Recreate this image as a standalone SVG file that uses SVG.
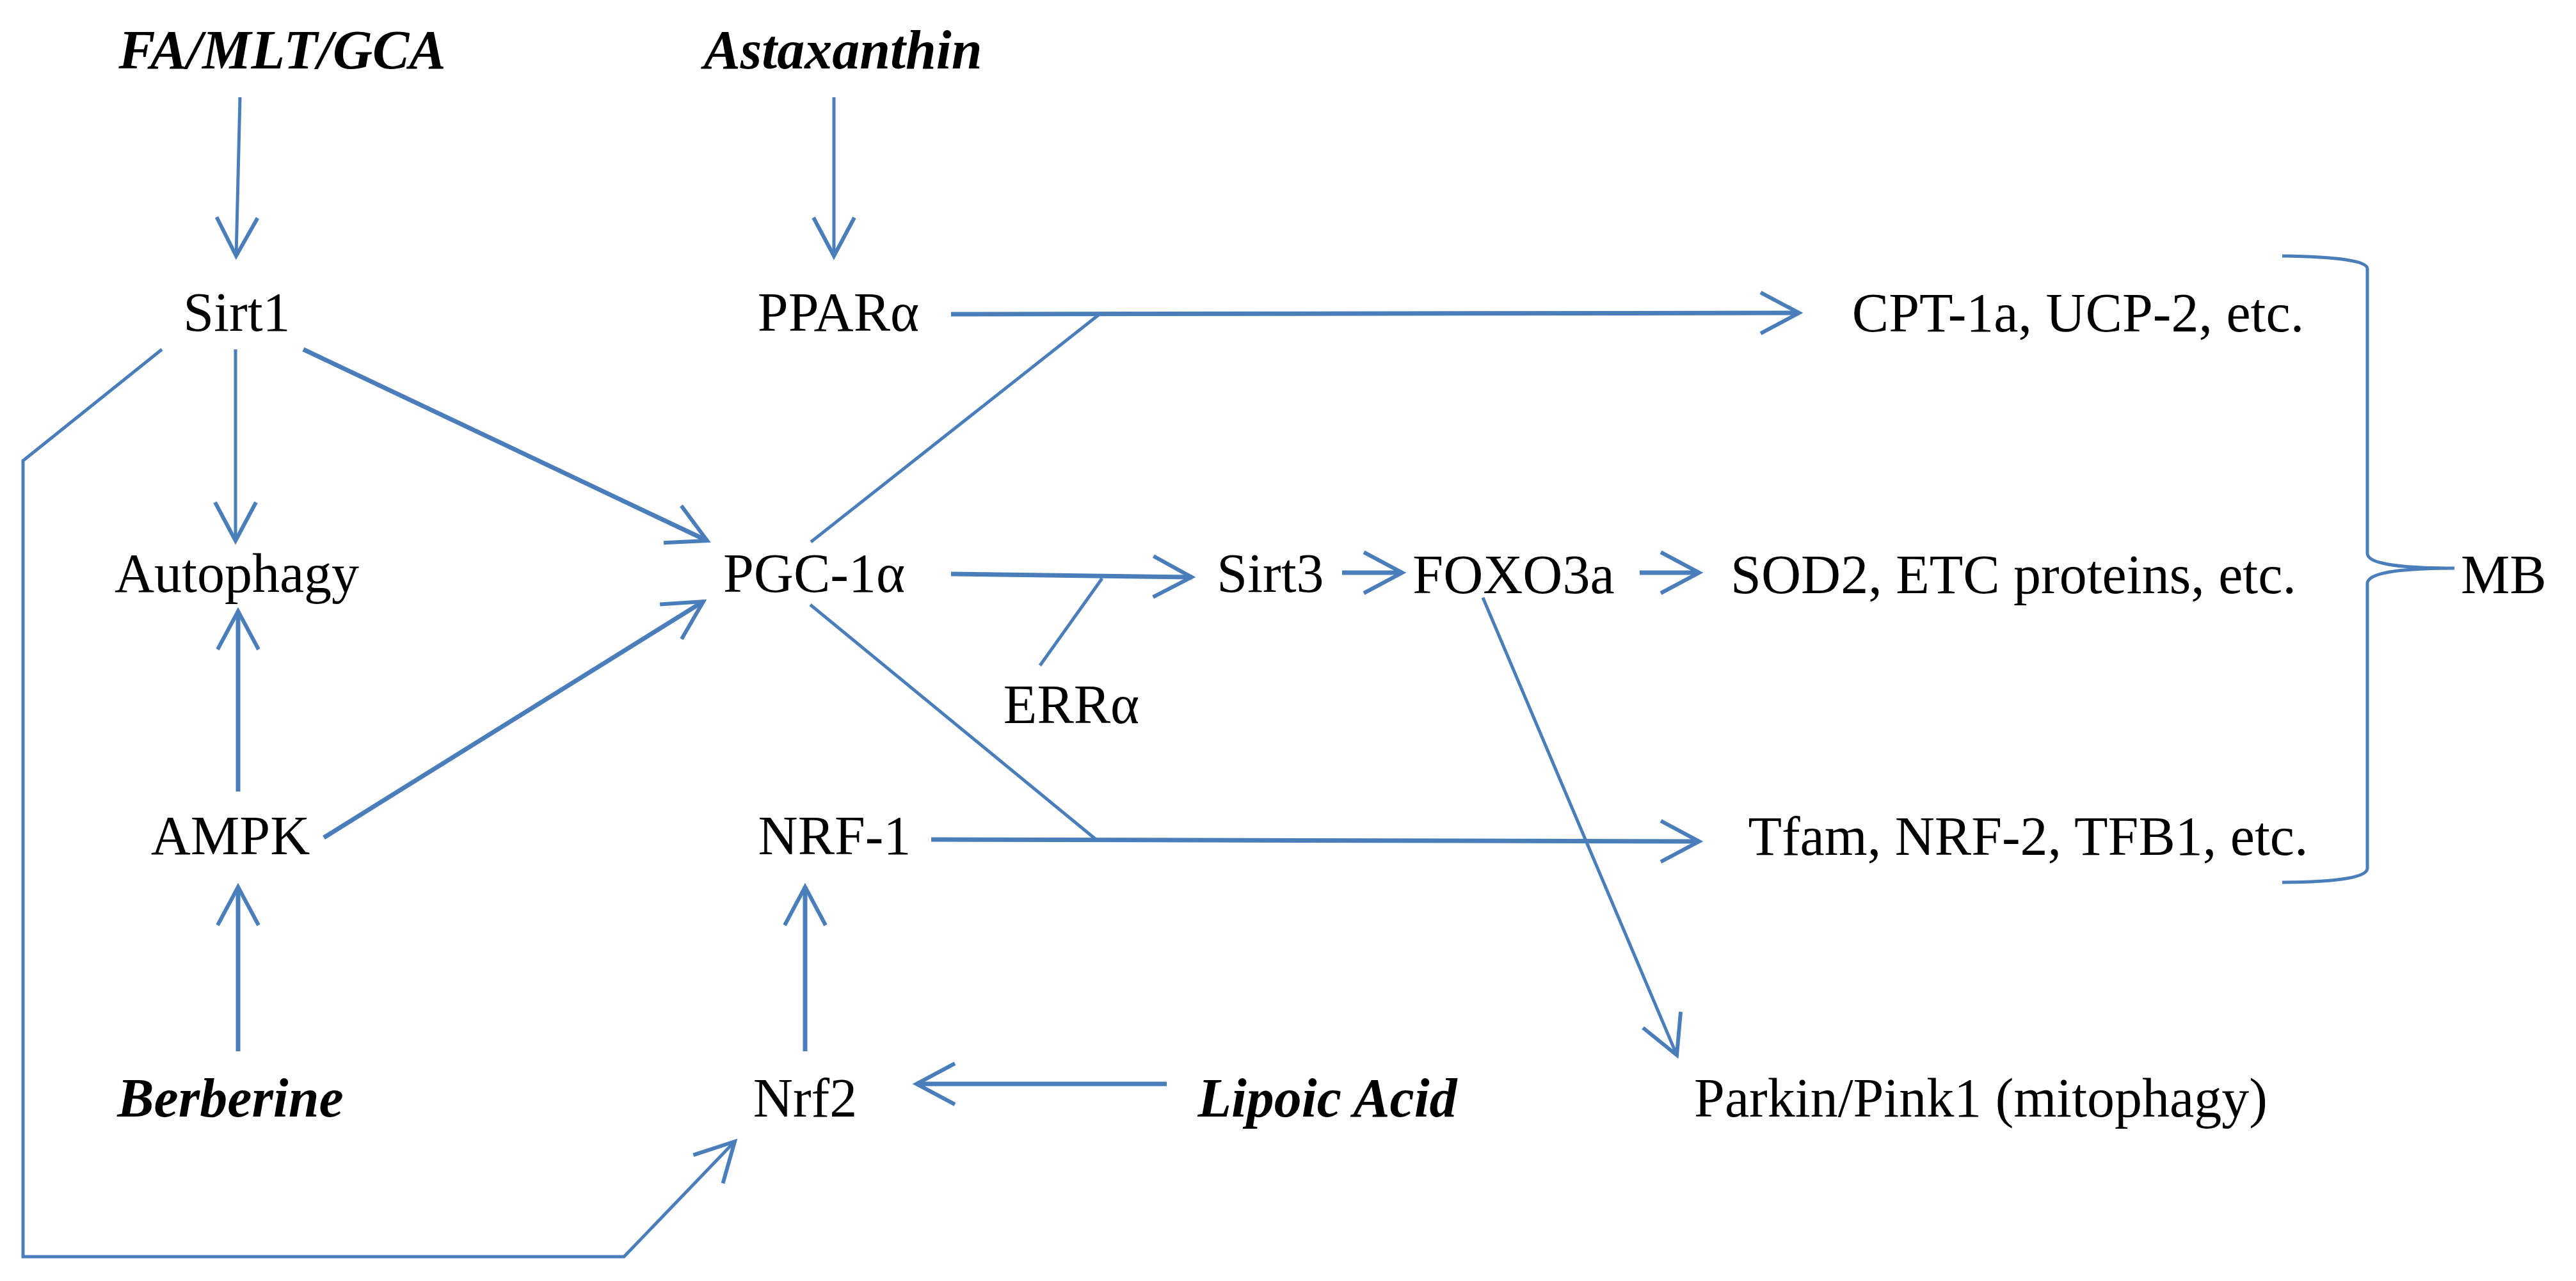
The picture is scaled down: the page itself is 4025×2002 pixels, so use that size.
<svg xmlns="http://www.w3.org/2000/svg" width="4025" height="2002" viewBox="0 0 4025 2002">
<style>
text{font-family:"Liberation Serif","Times New Roman",serif;font-size:86px;fill:#000;text-anchor:middle}
.bi{font-weight:bold;font-style:italic}
.c line,.c polyline,.c path{stroke:#4a7ebb;stroke-width:5;fill:none}
.c .t{stroke-width:7}
</style>
<defs>
<marker id="a" markerUnits="userSpaceOnUse" markerWidth="80" markerHeight="80" viewBox="-70 -40 80 80" refX="0" refY="0" orient="auto" overflow="visible">
<path d="M-60,-32 L0,0 L-60,32" fill="none" stroke="#4a7ebb" stroke-width="6"/>
</marker>
</defs>
<rect width="4025" height="2002" fill="#fff"/>
<g id="n-fa"><text class="bi" x="441" y="107">FA/MLT/GCA</text></g>
<g id="n-asta"><text class="bi" x="1317" y="107">Astaxanthin</text></g>
<g id="n-sirt1"><text x="370" y="517">Sirt1</text></g>
<g id="n-ppara"><text x="1310" y="517">PPARα</text></g>
<g id="n-cpt"><text x="3247" y="518">CPT-1a, UCP-2, etc.</text></g>
<g id="n-autophagy"><text x="370" y="925">Autophagy</text></g>
<g id="n-pgc"><text x="1272" y="925">PGC-1α</text></g>
<g id="n-sirt3"><text x="1985" y="925">Sirt3</text></g>
<g id="n-foxo"><text x="2365" y="927">FOXO3a</text></g>
<g id="n-sod2"><text x="3146" y="927">SOD2, ETC proteins, etc.</text></g>
<g id="n-mb"><text x="3912" y="927">MB</text></g>
<g id="n-erra"><text x="1674" y="1130">ERRα</text></g>
<g id="n-ampk"><text x="360" y="1335">AMPK</text></g>
<g id="n-nrf1"><text x="1304" y="1335">NRF-1</text></g>
<g id="n-tfam"><text x="3169" y="1336">Tfam, NRF-2, TFB1, etc.</text></g>
<g id="n-berb"><text class="bi" x="360" y="1745">Berberine</text></g>
<g id="n-nrf2"><text x="1258" y="1745">Nrf2</text></g>
<g id="n-lipoic"><text class="bi" x="2074" y="1745">Lipoic Acid</text></g>
<g id="n-parkin"><text x="3095" y="1745">Parkin/Pink1 (mitophagy)</text></g>
<g id="connectors" class="c">
<line x1="375" y1="152" x2="369" y2="400" marker-end="url(#a)"/>
<line x1="1303" y1="152" x2="1303" y2="400" marker-end="url(#a)"/>
<line x1="368" y1="546" x2="368" y2="845" marker-end="url(#a)"/>
<line class="t" x1="474" y1="546" x2="1105" y2="845" marker-end="url(#a)"/>
<polyline points="253,546 36,720 36,1964 975,1964 1148,1784" marker-end="url(#a)"/>
<line class="t" x1="1486" y1="491" x2="2811" y2="489" marker-end="url(#a)"/>
<line x1="1267" y1="847" x2="1718" y2="491"/>
<line class="t" x1="1486" y1="897" x2="1862" y2="902" marker-end="url(#a)"/>
<line x1="1625" y1="1040" x2="1722" y2="904"/>
<line class="t" x1="2097" y1="895" x2="2191" y2="895" marker-end="url(#a)"/>
<line class="t" x1="2562" y1="895" x2="2655" y2="895" marker-end="url(#a)"/>
<line x1="2317" y1="934" x2="2620" y2="1649" marker-end="url(#a)"/>
<line x1="1266" y1="945" x2="1715" y2="1314"/>
<line class="t" x1="1455" y1="1312" x2="2655" y2="1315" marker-end="url(#a)"/>
<line class="t" x1="372" y1="1237" x2="372" y2="955" marker-end="url(#a)"/>
<line class="t" x1="506" y1="1309" x2="1099" y2="940" marker-end="url(#a)"/>
<line class="t" x1="372" y1="1643" x2="372" y2="1386" marker-end="url(#a)"/>
<line class="t" x1="1258" y1="1643" x2="1258" y2="1386" marker-end="url(#a)"/>
<line class="t" x1="1823" y1="1694" x2="1432" y2="1694" marker-end="url(#a)"/>
<path d="M3566,400 Q3699,402 3699,420 L3699,865 Q3699,888 3835,888 Q3699,888 3699,912 L3699,1357 Q3699,1378 3566,1379"/>
</g>
</svg>
